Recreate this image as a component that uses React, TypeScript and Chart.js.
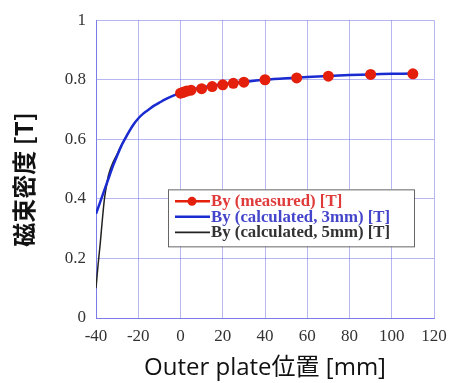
import React, { useEffect, useRef } from "react";
import { Chart, registerables } from "chart.js";

Chart.register(...registerables);

const measuredX = [0, 1, 2, 3, 5, 10, 15, 20, 25, 30, 40, 55, 70, 90, 110];
const measuredY = [0.755, 0.757, 0.76, 0.762, 0.765, 0.77, 0.777, 0.783, 0.788, 0.792, 0.8, 0.806, 0.812, 0.818, 0.82];

const calc3X = [-40, -38, -36, -34, -32, -30, -28, -26, -24, -22, -20, -17.5, -15, -12.5, -10, -7.5, -5, -2.5, 0, 5, 10, 20, 30, 40, 50, 60, 70, 80, 90, 100, 110];
const calc3Y = [0.35, 0.39, 0.43, 0.47, 0.51, 0.545, 0.578, 0.605, 0.63, 0.652, 0.67, 0.687, 0.7, 0.713, 0.723, 0.733, 0.742, 0.749, 0.755, 0.766, 0.774, 0.785, 0.793, 0.8, 0.805, 0.809, 0.813, 0.816, 0.818, 0.82, 0.821];

const calc5X = [-40, -39, -38, -37, -36, -35, -34, -32, -30, -28, -26, -24, -22, -20];
const calc5Y = [0.1, 0.18, 0.25, 0.33, 0.4, 0.445, 0.482, 0.522, 0.55, 0.58, 0.606, 0.63, 0.652, 0.67];

const yTickValues = [0, 0.2, 0.4, 0.6, 0.8, 1];
const xTickValues = [-40, -20, 0, 20, 40, 60, 80, 100, 120];

const seriesNames = ["By (measured) [T]", "By (calculated, 3mm) [T]", "By (calculated, 5mm) [T]"];
const seriesColors = ["#e4200c", "#1a2bd0", "#222222"];
const legendTextColors = ["#e03a3a", "#4545cc", "#333333"];

const xTitle = "Outer plate位置 [mm]";
const yTitle = "磁束密度 [T]";

const toPoints = (xs: number[], ys: number[]) => xs.map((x, i) => ({ x, y: ys[i] }));

const overlayPlugin = {
  id: "overlay",
  afterDraw(chart: any) {
    const { ctx, chartArea } = chart;
    const w = chartArea.right - chartArea.left;
    const h = chartArea.bottom - chartArea.top;
    ctx.save();
    ctx.translate(24, chartArea.top + 0.535 * h);
    ctx.rotate(-Math.PI / 2);
    ctx.font = "bold 24px 'Noto Sans CJK JP', sans-serif";
    ctx.fillStyle = "#111";
    ctx.textAlign = "center";
    ctx.textBaseline = "middle";
    ctx.fillText(yTitle, 0, 0);
    ctx.restore();

    const left = chartArea.left + 0.213 * w;
    const top = chartArea.top + 0.568 * h;
    const bw = 246;
    const bh = 57;
    ctx.save();
    ctx.fillStyle = "#ffffff";
    ctx.fillRect(left, top, bw, bh);
    ctx.strokeStyle = "#666666";
    ctx.lineWidth = 1;
    ctx.strokeRect(left + 0.5, top + 0.5, bw, bh);
    ctx.textBaseline = "middle";
    for (let i = 0; i < seriesNames.length; i++) {
      const cy = top + 12 + i * 15.5;
      ctx.strokeStyle = seriesColors[i];
      ctx.lineWidth = i === 2 ? 1.8 : 2.5;
      ctx.beginPath();
      ctx.moveTo(left + 7, cy);
      ctx.lineTo(left + 42, cy);
      ctx.stroke();
      if (i === 0) {
        ctx.fillStyle = seriesColors[0];
        ctx.beginPath();
        ctx.arc(left + 24, cy, 4.5, 0, Math.PI * 2);
        ctx.fill();
      }
      ctx.save();
      ctx.translate(left + 43, cy + 1);
      ctx.scale(1.05, 1);
      ctx.font = "bold 16px 'Liberation Serif', serif";
      ctx.fillStyle = legendTextColors[i];
      ctx.fillText(seriesNames[i], 0, 0);
      ctx.restore();
    }
    ctx.restore();
  },
};

export default function App() {
  const ref = useRef<HTMLCanvasElement>(null);
  useEffect(() => {
    if (!ref.current) return;
    const gridColor = "rgba(110,110,230,0.5)";
    const chart = new Chart(ref.current, {
      type: "scatter",
      data: {
        datasets: [
          {
            label: seriesNames[0],
            data: toPoints(measuredX, measuredY),
            showLine: false,
            backgroundColor: seriesColors[0],
            borderColor: seriesColors[0],
            pointRadius: 5.5,
            pointBorderWidth: 0,
          },
          {
            label: seriesNames[1],
            data: toPoints(calc3X, calc3Y),
            showLine: true,
            borderColor: seriesColors[1],
            borderWidth: 2.5,
            pointRadius: 0,
            tension: 0.3,
          },
          {
            label: seriesNames[2],
            data: toPoints(calc5X, calc5Y),
            showLine: true,
            borderColor: seriesColors[2],
            borderWidth: 1.5,
            pointRadius: 0,
            tension: 0.3,
          },
        ],
      },
      options: {
        animation: false,
        responsive: true,
        maintainAspectRatio: false,
        layout: { padding: { left: 4, top: 15, right: 0, bottom: 0 } },
        plugins: { legend: { display: false }, tooltip: { enabled: false } },
        scales: {
          x: {
            type: "linear",
            min: -40,
            max: 120,
            afterBuildTicks: (s: any) => { s.ticks = xTickValues.map((v) => ({ value: v })); },
            ticks: { color: "#333", font: { family: "'Liberation Serif', serif", size: 17 }, padding: 8 },
            grid: { color: gridColor, lineWidth: 1, drawTicks: false },
            border: { color: "rgba(110,110,230,0.8)" },
            title: { display: true, text: xTitle, color: "#111", font: { family: "'Open Sans', 'Noto Sans CJK JP', sans-serif", size: 24 }, padding: { top: 0, bottom: 0 } },
            afterFit: (s: any) => { s.height = 65; s.paddingRight = 15; s.paddingLeft = 0; },
          },
          y: {
            type: "linear",
            min: 0,
            max: 1,
            afterBuildTicks: (s: any) => { s.ticks = yTickValues.map((v) => ({ value: v })); },
            ticks: { color: "#333", font: { family: "'Liberation Serif', serif", size: 17 }, padding: 10, callback: (v: any) => String(Math.round(Number(v) * 10) / 10) },
            grid: { color: gridColor, lineWidth: 1, drawTicks: false },
            border: { color: "rgba(110,110,230,0.8)" },
            afterFit: (s: any) => { s.width = 92; },
          },
        },
      },
      plugins: [overlayPlugin],
    } as any);
    return () => chart.destroy();
  }, []);
  return (
    <div style={{ position: "fixed", left: 0, top: 0, width: 449, height: 383, background: "#fff" }}>
      <canvas ref={ref} />
    </div>
  );
}
